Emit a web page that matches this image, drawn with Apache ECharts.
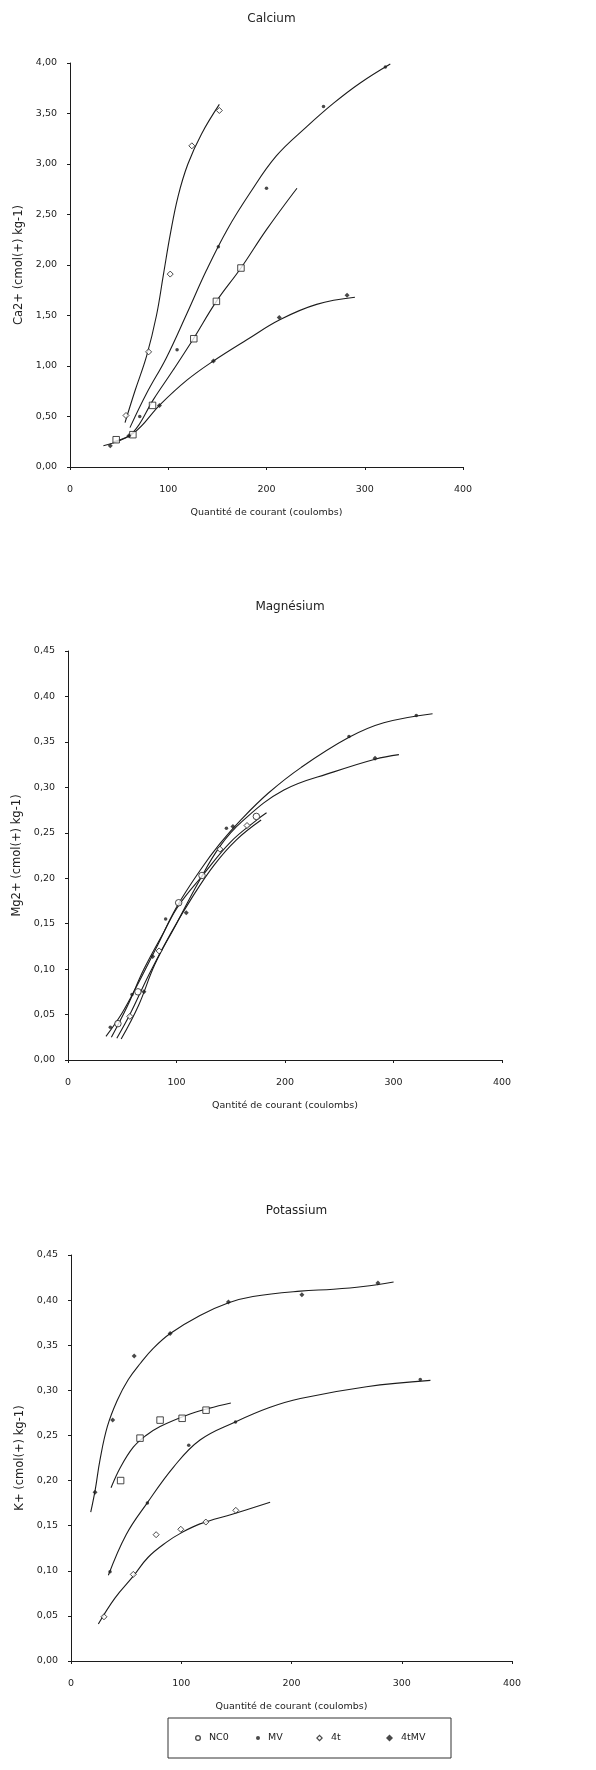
<!DOCTYPE html>
<html>
<head>
<meta charset="utf-8">
<script src="https://cdn.jsdelivr.net/npm/echarts@6/dist/echarts.min.js"></script>
<style>
  html, body { margin: 0; padding: 0; background: #ffffff; }
  #chart { width: 596px; height: 1770px; }
</style>
</head>
<body>
<div id="chart"></div>
<script>
// Treatments shown in the legend
const treatments = ['NC0', 'MV', '4t', '4tMV'];

// Shared x ticks (coulombs)
const xTicks = [0, 100, 200, 300, 400];

// ---------- Calcium: measured points [coulombs, cmol(+)/kg] ----------
const caPtsNC0  = [[47, 0.27], [64, 0.32], [84, 0.61], [126, 1.27], [149, 1.64], [174, 1.97]];
const caPtsMV   = [[71, 0.50], [109, 1.16], [151, 2.18], [200, 2.76], [258, 3.57], [321, 3.96]];
const caPts4t   = [[57, 0.51], [80, 1.14], [102, 1.91], [124, 3.18], [152, 3.53]];
const caPts4tMV = [[41, 0.21], [60, 0.31], [91, 0.61], [146, 1.05], [213, 1.48], [282, 1.70]];
// Calcium: fitted curves
const caFitNC0  = [[44, 0.25], [64, 0.34], [85, 0.67], [105, 0.96], [125, 1.26], [149, 1.64], [174, 1.97], [200, 2.35], [231, 2.76]];
const caFitMV   = [[61, 0.39], [78, 0.73], [98, 1.08], [119, 1.52], [139, 1.95], [160, 2.35], [183, 2.71], [210, 3.08], [241, 3.37], [268, 3.60], [295, 3.80], [326, 3.99]];
const caFit4t   = [[56, 0.44], [66, 0.75], [78, 1.10], [88, 1.50], [95, 1.90], [102, 2.30], [110, 2.68], [120, 3.00], [134, 3.30], [152, 3.59]];
const caFit4tMV = [[34, 0.21], [64, 0.33], [92, 0.62], [119, 0.86], [146, 1.05], [180, 1.26], [214, 1.46], [251, 1.61], [290, 1.68]];

// ---------- Magnesium ----------
const mgPtsNC0  = [[46, 0.040], [64.5, 0.075], [102, 0.173], [123.5, 0.203], [173.6, 0.268]];
const mgPtsMV   = [[39, 0.036], [59, 0.072], [90, 0.155], [146, 0.255], [259, 0.356], [321, 0.379]];
const mgPts4t   = [[57, 0.048], [84, 0.120], [140, 0.232], [165, 0.258]];
const mgPts4tMV = [[70, 0.075], [78, 0.114], [109, 0.162], [152, 0.257], [283, 0.332]];
const mgFitNC0  = [[40, 0.025], [55, 0.060], [70, 0.100], [88, 0.140], [102, 0.170], [124, 0.203], [150, 0.240], [175, 0.265], [183, 0.272]];
const mgFitMV   = [[35, 0.026], [50, 0.052], [65, 0.085], [82, 0.125], [100, 0.168], [122, 0.209], [140, 0.238], [160, 0.265], [185, 0.294], [215, 0.322], [259, 0.355], [291, 0.371], [336, 0.381]];
const mgFit4t   = [[45, 0.024], [57, 0.050], [75, 0.095], [95, 0.140], [115, 0.180], [135, 0.215], [155, 0.242], [178, 0.264]];
const mgFit4tMV = [[49, 0.023], [65, 0.060], [80, 0.105], [100, 0.150], [120, 0.195], [140, 0.235], [160, 0.262], [199, 0.297], [245, 0.317], [283, 0.331], [305, 0.336]];

// ---------- Potassium ----------
const kPtsNC0  = [[45, 0.200], [62.6, 0.247], [80.8, 0.267], [100.8, 0.269], [122.5, 0.278]];
const kPtsMV   = [[35.4, 0.099], [69.3, 0.175], [106.8, 0.239], [149.2, 0.265], [316.8, 0.312]];
const kPts4t   = [[29.9, 0.049], [56.5, 0.096], [77.2, 0.140], [99.6, 0.146], [122.3, 0.154], [149.5, 0.167]];
const kPts4tMV = [[21.8, 0.187], [37.8, 0.267], [57.3, 0.338], [89.9, 0.363], [142.8, 0.398], [209.4, 0.406], [278.4, 0.419]];
const kFitNC0  = [[36.3, 0.192], [45, 0.215], [56.5, 0.237], [68, 0.250], [80.8, 0.260], [105, 0.2725], [125, 0.280], [145, 0.286]];
const kFitMV   = [[33.9, 0.095], [50, 0.140], [69, 0.175], [93, 0.215], [117, 0.245], [149, 0.265], [180, 0.281], [208, 0.291], [268, 0.304], [326, 0.311]];
const kFit4t   = [[24.8, 0.041], [40, 0.070], [56.5, 0.094], [70, 0.115], [87, 0.132], [100, 0.142], [117, 0.152], [147, 0.163], [180.6, 0.176]];
const kFit4tMV = [[17.9, 0.165], [22, 0.190], [26.3, 0.223], [33, 0.260], [42, 0.289], [52, 0.312], [63, 0.330], [75, 0.347], [90, 0.363], [117, 0.383], [143, 0.397], [165, 0.404], [208, 0.410], [238, 0.412], [265, 0.415], [292.6, 0.420]];

const INK = '#1c1c1c';
const FONT = 'DejaVu Sans';

// Outline glyphs: outer contour clockwise, inner contour counter-clockwise
const RING = 'path://M0,5a5,5 0 1,0 10,0a5,5 0 1,0 -10,0z M2.2,5a2.8,2.8 0 1,1 5.6,0a2.8,2.8 0 1,1 -5.6,0z';
const DIAMOND_OUTLINE = 'path://M5,0L10,5L5,10L0,5Z M5,2.4L2.4,5L5,7.6L7.6,5Z';

// Marker look per treatment
function markerStyle(name, shapeNC0) {
  switch (name) {
    case 'NC0':  return { symbol: shapeNC0, symbolSize: 6.5, itemStyle: { color: '#fff', borderColor: INK, borderWidth: 1 } };
    case 'MV':   return { symbol: 'circle', symbolSize: 3.5, itemStyle: { color: INK } };
    case '4t':   return { symbol: 'diamond', symbolSize: 6, itemStyle: { color: '#fff', borderColor: INK, borderWidth: 1 } };
    default:     return { symbol: 'diamond', symbolSize: 5, itemStyle: { color: INK } };
  }
}

const panels = [
  { title: 'Calcium', yName: 'Ca2+ (cmol(+) kg-1)', xName: 'Quantité de courant (coulombs)',
    grid: { left: 70, top: 63, width: 393, height: 404 }, yMax: 4, yStep: 0.5, nc0Shape: 'rect',
    pts: [caPtsNC0, caPtsMV, caPts4t, caPts4tMV], fit: [caFitNC0, caFitMV, caFit4t, caFit4tMV] },
  { title: 'Magnésium', yName: 'Mg2+ (cmol(+) kg-1)', xName: 'Qantité de courant (coulombs)',
    grid: { left: 68, top: 651, width: 434, height: 409 }, yMax: 0.45, yStep: 0.05, nc0Shape: 'circle',
    pts: [mgPtsNC0, mgPtsMV, mgPts4t, mgPts4tMV], fit: [mgFitNC0, mgFitMV, mgFit4t, mgFit4tMV] },
  { title: 'Potassium', yName: 'K+ (cmol(+) kg-1)', xName: 'Quantité de courant (coulombs)',
    grid: { left: 71, top: 1255, width: 441, height: 406 }, yMax: 0.45, yStep: 0.05, nc0Shape: 'rect',
    pts: [kPtsNC0, kPtsMV, kPts4t, kPts4tMV], fit: [kFitNC0, kFitMV, kFit4t, kFit4tMV] }
];

const option = {
  backgroundColor: '#ffffff',
  animation: false,
  title: [], grid: [], xAxis: [], yAxis: [], series: [], legend: [], graphic: []
};

panels.forEach((p, i) => {
  option.title.push({
    text: p.title,
    left: p.grid.left + p.grid.width / 2, top: p.grid.top - 55, textAlign: 'center',
    textStyle: { fontFamily: FONT, fontSize: 12, fontWeight: 'normal', color: '#222' }
  });
  option.grid.push(Object.assign({ containLabel: false }, p.grid));
  option.xAxis.push({
    type: 'value', gridIndex: i, min: xTicks[0], max: xTicks[xTicks.length - 1], interval: 100,
    name: p.xName, nameLocation: 'middle', nameGap: 41,
    nameTextStyle: { fontFamily: FONT, fontSize: 9.5, color: '#222' },
    axisLine: { lineStyle: { color: INK, width: 1 } },
    axisTick: { show: true, length: 3, lineStyle: { color: INK } },
    axisLabel: { margin: 18, fontFamily: FONT, fontSize: 9.5, color: '#222' },
    splitLine: { show: false }
  });
  option.yAxis.push({
    type: 'value', gridIndex: i, min: 0, max: p.yMax, interval: p.yStep,
    name: p.yName, nameLocation: 'middle', nameGap: 42, nameRotate: 90,
    nameTextStyle: { fontFamily: FONT, fontSize: 11.5, color: '#222' },
    axisLine: { show: true, lineStyle: { color: INK, width: 1 } },
    axisTick: { show: true, length: 3, lineStyle: { color: INK } },
    axisLabel: { margin: 13, fontFamily: FONT, fontSize: 9.5, color: '#222',
      formatter: v => v.toFixed(2).replace('.', ',') },
    splitLine: { show: false }
  });
  treatments.forEach((name, k) => {
    option.series.push({
      name: name + ' fit', type: 'line', xAxisIndex: i, yAxisIndex: i,
      data: p.fit[k], smooth: 0.4, showSymbol: false, silent: true,
      lineStyle: { color: INK, width: 1.1 }, z: 2
    });
    option.series.push(Object.assign({
      name: name, type: 'scatter', xAxisIndex: i, yAxisIndex: i, data: p.pts[k], z: 3
    }, markerStyle(name, p.nc0Shape)));
  });
});

// Legend: one entry per treatment, laid out inside a framed box
const legendIcons = { NC0: RING, MV: 'circle', '4t': DIAMOND_OUTLINE, '4tMV': 'diamond' };
const legendIconSize = { NC0: 6, MV: 4, '4t': 7, '4tMV': 7 };
const legendX = [190, 251, 311, 381];
treatments.forEach((name, k) => {
  option.legend.push({
    data: [{ name: name, icon: legendIcons[name], itemStyle: { color: INK, borderWidth: 0 } }],
    left: legendX[k], top: 1728,
    itemWidth: legendIconSize[name], itemHeight: legendIconSize[name], itemGap: 0,
    selectedMode: false,
    textStyle: { fontFamily: FONT, fontSize: 9.5, color: '#222', padding: [0, 0, 0, 3] }
  });
});
option.graphic.push({
  type: 'rect', shape: { x: 168, y: 1718, width: 283, height: 40 },
  style: { fill: 'none', stroke: '#333', lineWidth: 1 }, silent: true
});

echarts.init(document.getElementById('chart'), null, { renderer: 'canvas' }).setOption(option);
</script>
</body>
</html>
